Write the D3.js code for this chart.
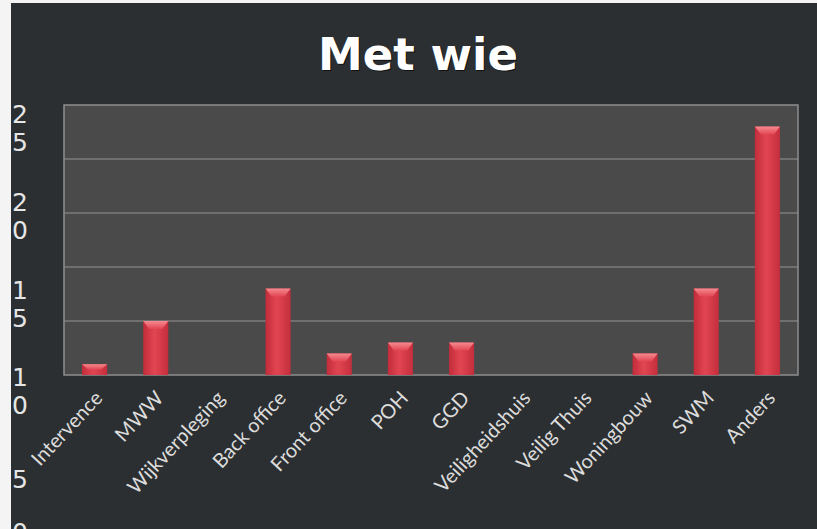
<!DOCTYPE html>
<html lang="nl">
<head>
    <meta charset="UTF-8">
    <title>Met wie</title>
    <script src="https://d3js.org/d3.v7.min.js"></script>
    <style>
        body { margin: 0; background: #fff; }
        .title { font: bold 45px "DejaVu Sans", sans-serif; fill: #fff; text-anchor: middle; }
        .ylab { font: 25px "DejaVu Sans", sans-serif; fill: #e6e6e6; }
        .xlab { font: 20px Lato, sans-serif; fill: #dcdcdc; text-anchor: end; }
    </style>
</head>
<body>
    <script>
        // categorieën en aantallen
        const categories = ["Intervence", "MWW", "Wijkverpleging", "Back office", "Front office", "POH",
            "GGD", "Veiligheidshuis", "Veilig Thuis", "Woningbouw", "SWM", "Anders"];
        const counts = [1, 5, 0, 8, 2, 3, 3, 0, 0, 2, 8, 23];
        const yTicks = [25, 20, 15, 10, 5, 0];

        const W = 817, H = 529;
        const plot = { left: 64, right: 798, top: 105, bottom: 375 };

        const svg = d3.select("body").append("svg")
            .attr("width", W)
            .attr("height", H);

        const defs = svg.append("defs");
        const grad = defs.append("linearGradient").attr("id", "barGrad")
            .attr("x1", "0").attr("x2", "1").attr("y1", "0").attr("y2", "0");
        grad.append("stop").attr("offset", "0%").attr("stop-color", "#c22c3a");
        grad.append("stop").attr("offset", "45%").attr("stop-color", "#e24552");
        grad.append("stop").attr("offset", "100%").attr("stop-color", "#c42e3c");

        const bevel = defs.append("linearGradient").attr("id", "bevelGrad")
            .attr("x1", "0").attr("x2", "0").attr("y1", "0").attr("y2", "1");
        bevel.append("stop").attr("offset", "0%").attr("stop-color", "#f58a90");
        bevel.append("stop").attr("offset", "100%").attr("stop-color", "#e24552");

        // achtergrond (scan met witte rand links en boven)
        svg.append("rect").attr("width", W).attr("height", H).attr("fill", "#f4f4f4");
        svg.append("rect").attr("x", 11).attr("y", 3).attr("width", W - 11).attr("height", H - 3)
            .attr("fill", "#2b2f31");

        svg.append("text").attr("class", "title")
            .attr("x", 419).attr("y", 71)
            .style("fill", "#111")
            .text("Met wie");
        svg.append("text").attr("class", "title")
            .attr("x", 418).attr("y", 70)
            .text("Met wie");

        const x = d3.scaleBand()
            .domain(categories)
            .range([plot.left, plot.right])
            .paddingInner(0.59)
            .paddingOuter(0.295);

        const y = d3.scaleLinear()
            .domain([0, 25])
            .range([plot.bottom, plot.top]);

        // plotgebied
        svg.append("rect")
            .attr("x", plot.left).attr("y", plot.top)
            .attr("width", plot.right - plot.left).attr("height", plot.bottom - plot.top)
            .attr("fill", "#4a4a4b");

        svg.append("g")
            .selectAll("line")
            .data(yTicks.filter(d => d > 0 && d < 25))
            .join("line")
            .attr("x1", plot.left).attr("x2", plot.right)
            .attr("y1", d => y(d)).attr("y2", d => y(d))
            .attr("stroke", "#7c7c7c").attr("stroke-width", 1.5);

        svg.append("rect")
            .attr("x", plot.left).attr("y", plot.top)
            .attr("width", plot.right - plot.left).attr("height", plot.bottom - plot.top)
            .attr("fill", "none").attr("stroke", "#8e8e8e").attr("stroke-width", 1.5);

        // staven
        const bars = svg.append("g")
            .selectAll("g")
            .data(categories.map((c, i) => ({ c, v: counts[i] })).filter(d => d.v > 0))
            .join("g");

        bars.append("rect")
            .attr("x", d => x(d.c))
            .attr("y", d => y(d.v))
            .attr("width", x.bandwidth())
            .attr("height", d => y(0) - y(d.v))
            .attr("fill", "url(#barGrad)");

        bars.append("path")
            .attr("d", d => {
                const x0 = x(d.c), x1 = x0 + x.bandwidth(), t = y(d.v);
                const h = Math.min(8, (y(0) - t) / 2);
                return `M${x0},${t}L${x1},${t}L${x1 - 6},${t + h}L${x0 + 6},${t + h}Z`;
            })
            .attr("fill", "url(#bevelGrad)");

        // categorie-labels
        svg.append("g")
            .selectAll("text")
            .data(categories)
            .join("text")
            .attr("class", "xlab")
            .attr("transform", d => `translate(${x(d) + x.bandwidth() / 2 + 9},${plot.bottom + 24}) rotate(-47)`)
            .text(d => d);

        // y-labels, in de scan gebroken over twee regels
        const labelY = d3.scaleLinear().domain([25, 5, 0]).range([128, 479, 532]);
        const ylab = svg.append("g")
            .selectAll("text")
            .data(yTicks)
            .join("text")
            .attr("class", "ylab")
            .attr("x", 12);

        ylab.selectAll("tspan")
            .data(d => {
                const digits = String(d).split("");
                return digits.map((c, i) => ({ c, dy: (i - (digits.length - 1) / 2) * 28 + 9, v: d }));
            })
            .join("tspan")
            .attr("x", 12)
            .attr("y", d => labelY(d.v) + d.dy)
            .text(d => d.c);
    </script>
</body>
</html>
